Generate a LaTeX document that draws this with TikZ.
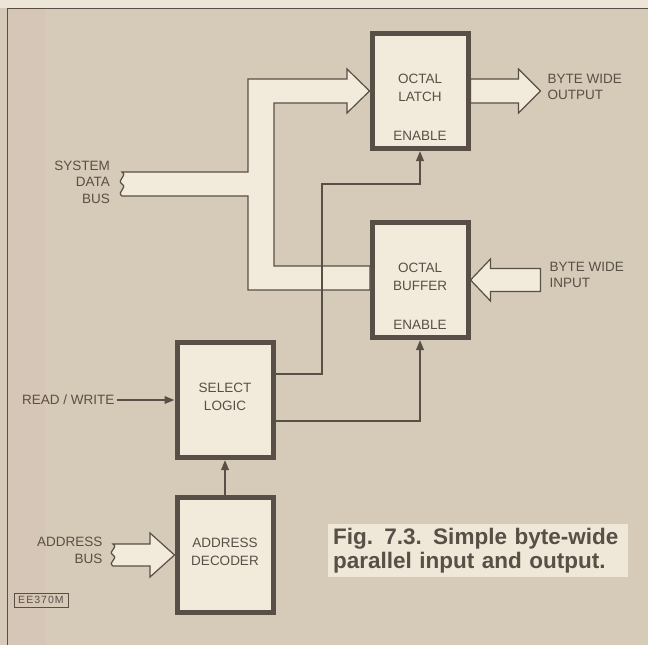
\documentclass[tikz,border=0pt]{standalone}
\usepackage{fontspec}
\setmainfont{Liberation Sans}
\usetikzlibrary{positioning, arrows.meta}
\definecolor{paper}{RGB}{214,203,184}
\definecolor{strip}{RGB}{236,229,216}
\definecolor{edge}{RGB}{214,198,184}
\definecolor{ink}{RGB}{88,79,70}
\definecolor{cream}{RGB}{242,235,220}
\definecolor{capbg}{RGB}{239,232,217}
\tikzset{
  blk/.style={draw=ink, line width=5pt, fill=cream, minimum width=96pt, minimum height=115pt, text depth=7pt, align=center, text=ink, font=\fontsize{13.5}{18}\selectfont},
  lbl/.style={text=ink, inner sep=2pt, font=\fontsize{13.5}{16.5}\selectfont},
  sig/.style={draw=ink, line width=2pt, -{Triangle[length=10pt, width=7.5pt]}},
  bus/.style={draw=ink, line width=1.2pt, fill=cream, line join=miter},
  figcap/.style={fill=capbg, text=ink, align=left, text width=290pt, inner xsep=5pt, inner ysep=4pt, font=\bfseries\fontsize{22.5}{23.5}\selectfont},
}

\begin{document}
\begin{tikzpicture}[x=1pt, y=-1pt]
  \fill[paper] (0,0) rectangle (648,645);
  \useasboundingbox (0,0) rectangle (648,645);
  \fill[strip] (0,0) rectangle (648,8);
  \fill[edge] (8,9) rectangle (45,645);
  \draw[ink, line width=1pt] (7,645) -- (7,8) -- (648,8);
  \node[blk] (latch) at (420,91) {OCTAL\\LATCH};
  \node[lbl, above=8pt of latch.south] (len) {ENABLE};
  \node[blk, below=69pt of latch] (buf) {OCTAL\\BUFFER};
  \node[lbl, above=8pt of buf.south] (ben) {ENABLE};
  \node[blk, below left=0pt and 94pt of buf] (sel) {SELECT\\LOGIC};
  \node[blk, below=35pt of sel] (dec) {ADDRESS\\DECODER};
  \coordinate (sdb) at (120,182);
  \node[lbl, align=right, left=8pt of sdb] (sdbl) {SYSTEM\\DATA\\BUS};
  \node[lbl, align=left, right=75pt of latch.east, yshift=4pt] (outl) {BYTE WIDE\\OUTPUT};
  \node[lbl, align=left, right=77pt of buf.east, yshift=5pt] (inl) {BYTE WIDE\\INPUT};
  \node[lbl, align=right, left=70pt of dec.west, yshift=4.5pt] (adl) {ADDRESS\\BUS};
  \node[lbl, left=58pt of sel] (rw) {READ / WRITE};
  \filldraw[bus] (122,172) -- (248,172) -- (248,79) -- (347,79) -- (347,69) -- (latch.west) -- (347,113) -- (347,103)
    -- (274,103) -- (274,266) -- (370,266) -- (370,290) -- (248,290) -- (248,196) -- (122,196)
    .. controls (116,192) and (128,188) .. (122,184) .. controls (116,180) and (128,176) .. (122,172) -- cycle;
  \filldraw[bus] ([yshift=12pt]latch.east) -- ++(48,0) -- ++(0,-10) -- ++(22,22) -- ++(-22,22) -- ++(0,-10) -- ++(-48,0) -- cycle;
  \filldraw[bus] (buf.east) -- ++(20,-21) -- ++(0,9.5) -- ++(50,0) -- ++(0,23) -- ++(-50,0) -- ++(0,9.5) -- cycle;
  \filldraw[bus] (113,544) -- (150,544) -- (150,533) -- (dec.west) -- (150,577) -- (150,566) -- (113,566)
    .. controls (107,562) and (119,559) .. (113,555) .. controls (107,551) and (119,548) .. (113,544) -- cycle;
  \draw[sig] ([yshift=26pt]sel.east) -| (322,184) -| (latch.south);
  \draw[sig] ([yshift=-21pt]sel.east) -| (buf.south);
  \draw[sig] (rw) -- (sel);
  \draw[sig] (dec) -- (sel);
  \node[figcap, anchor=north west] (fc) at (328,524) {\mbox{Fig. 7.3. Simple byte-wide}\\\mbox{parallel input and output.}};
  \node[draw=ink, line width=0.6pt, text=ink, inner sep=1pt, minimum width=54pt, minimum height=14pt, font=\fontsize{10.5}{11}\selectfont\addfontfeature{LetterSpace=10}] (code) at (41,600) {EE370M};
\end{tikzpicture}
\end{document}
